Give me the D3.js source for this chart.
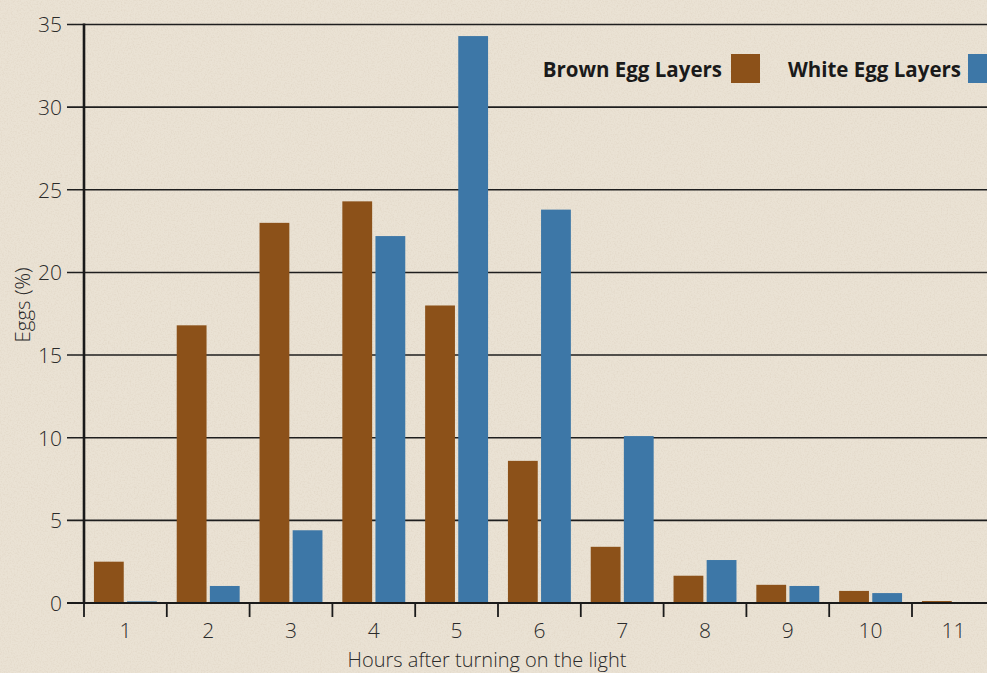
<!DOCTYPE html>
<html>
<head>
<meta charset="utf-8">
<script src="https://cdn.jsdelivr.net/npm/d3@7"></script>
<style>
  html, body { margin: 0; padding: 0; background: #e9e1d3; }
  svg { display: block; }
</style>
</head>
<body>
<svg id="chart" width="987" height="673"></svg>
<script>
// data
const hours = ["1", "2", "3", "4", "5", "6", "7", "8", "9", "10", "11"];
const seriesNames = ["Brown Egg Layers", "White Egg Layers"];
const brownEggs = [2.5, 16.8, 23.0, 24.3, 18.0, 8.6, 3.4, 1.65, 1.1, 0.73, 0.12];
const whiteEggs = [0.1, 1.03, 4.4, 22.2, 34.3, 23.8, 10.1, 2.6, 1.03, 0.6, 0];
const yTicks = [0, 5, 10, 15, 20, 25, 30, 35];
const colors = ["#8c5119", "#3d77a7"];

const W = 987, H = 673;
const svg = d3.select("#chart");

// paper-ish background
const defs = svg.append("defs");
const f = defs.append("filter").attr("id", "paper").attr("x", 0).attr("y", 0).attr("width", "100%").attr("height", "100%");
f.append("feTurbulence").attr("type", "fractalNoise").attr("baseFrequency", 0.7).attr("numOctaves", 3).attr("seed", 3).attr("result", "n");
f.append("feColorMatrix").attr("in", "n").attr("type", "matrix")
  .attr("values", "0 0 0 0 0.62  0 0 0 0 0.52  0 0 0 0 0.40  1 0 0 0 -0.42");
svg.append("rect").attr("width", W).attr("height", H).attr("fill", "#eae2d4");
svg.append("rect").attr("width", W).attr("height", H).attr("filter", "url(#paper)").attr("opacity", 0.55);

// scales
const x0 = d3.scaleBand().domain(hours).range([84, 84 + 11 * 82.8])
  .paddingInner(0.24).paddingOuter(0.12);
const x1 = d3.scaleBand().domain(seriesNames).range([0, x0.bandwidth()]).paddingInner(0.1);
const y = d3.scaleLinear().domain([0, 35]).range([603, 24.5]);

const light = "'Open Sans', sans-serif";

// gridlines
svg.append("g").selectAll("line").data(yTicks).join("line")
  .attr("x1", 67).attr("x2", W)
  .attr("y1", d => y(d)).attr("y2", d => y(d))
  .attr("stroke", "#1e1e1e").attr("stroke-width", 1.6);

// y axis labels
const yAxis = svg.append("g").attr("transform", "translate(84,0)")
  .call(d3.axisLeft(y).tickValues(yTicks).tickSize(17).tickPadding(5));
yAxis.select(".domain").remove();
yAxis.selectAll(".tick line").remove();
yAxis.selectAll("text")
  .attr("font-family", light).attr("font-weight", 300)
  .attr("font-size", 21).attr("fill", "#2a2a2a").attr("dy", "0.35em");

// bars
const rows = hours.map((h, i) => ({ h, vals: [brownEggs[i], whiteEggs[i]] }));
svg.append("g").selectAll("g").data(rows).join("g")
  .attr("transform", d => `translate(${x0(d.h)},0)`)
  .selectAll("rect").data(d => d.vals.map((v, j) => ({ v, s: seriesNames[j], c: colors[j] })))
  .join("rect")
    .attr("x", d => x1(d.s))
    .attr("width", x1.bandwidth())
    .attr("y", d => y(d.v))
    .attr("height", d => y(0) - y(d.v))
    .attr("fill", d => d.c);

// axes lines
svg.append("line").attr("x1", 84).attr("x2", 84).attr("y1", y(35) - 1).attr("y2", y(0))
  .attr("stroke", "#1a1a1a").attr("stroke-width", 2.6);
svg.append("line").attr("x1", 67).attr("x2", W).attr("y1", y(0)).attr("y2", y(0))
  .attr("stroke", "#1a1a1a").attr("stroke-width", 1.8);

// x axis: labels at band centres, ticks at band boundaries
const xAxis = svg.append("g").attr("transform", `translate(0,${y(0)})`)
  .call(d3.axisBottom(x0).tickSize(0).tickPadding(20));
xAxis.select(".domain").remove();
xAxis.selectAll("text")
  .attr("font-family", light).attr("font-weight", 300)
  .attr("font-size", 21).attr("fill", "#2a2a2a");
const half = x0.step() * x0.paddingInner() / 2;
svg.append("g").selectAll("line").data(hours).join("line")
  .attr("x1", d => x0(d) - half).attr("x2", d => x0(d) - half)
  .attr("y1", y(0)).attr("y2", y(0) + 14)
  .attr("stroke", "#1a1a1a").attr("stroke-width", 1.8);

// axis titles
svg.append("text").attr("x", 487).attr("y", 666.5).attr("text-anchor", "middle")
  .attr("font-family", light).attr("font-weight", 300)
  .attr("font-size", 20).attr("fill", "#2a2a2a")
  .text("Hours after turning on the light");
svg.append("text").attr("transform", "translate(30,305) rotate(-90)").attr("text-anchor", "middle")
  .attr("font-family", light).attr("font-weight", 300)
  .attr("font-size", 20.5).attr("fill", "#2a2a2a")
  .text("Eggs (%)");

// legend
const legendPos = [{ textEnd: 722, box: 731 }, { textEnd: 961, box: 968 }];
const lg = svg.append("g").selectAll("g").data(seriesNames).join("g");
lg.append("text")
  .attr("x", (d, i) => legendPos[i].textEnd).attr("y", 77)
  .attr("text-anchor", "end")
  .attr("font-family", light).attr("font-weight", 700)
  .attr("font-size", 20.5).attr("fill", "#1a1a1a")
  .text(d => d);
lg.append("rect")
  .attr("x", (d, i) => legendPos[i].box).attr("y", 54)
  .attr("width", 29).attr("height", 29)
  .attr("fill", (d, i) => colors[i]);
</script>
</body>
</html>
